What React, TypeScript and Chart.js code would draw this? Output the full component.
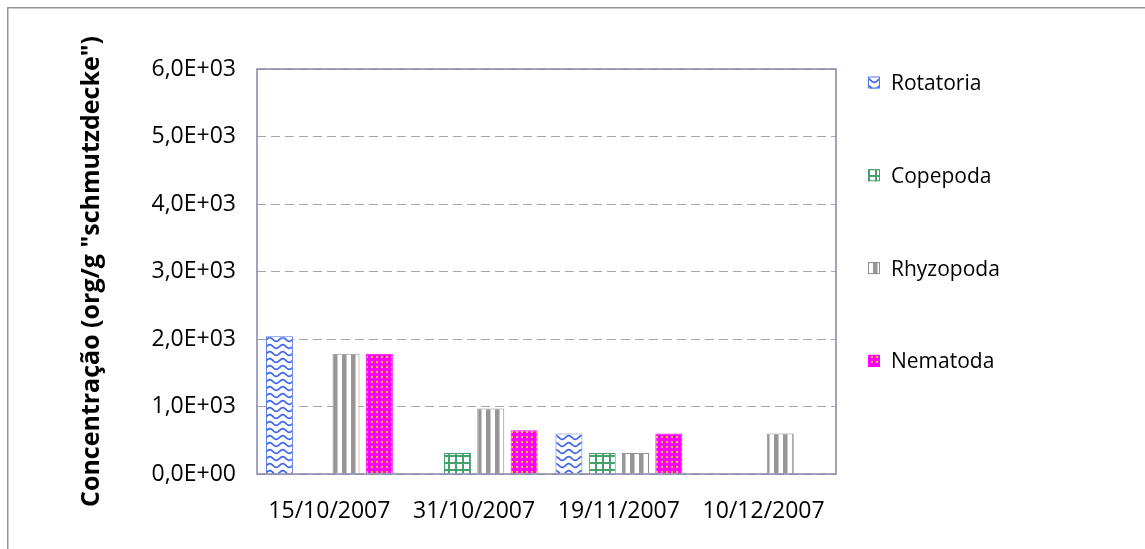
import React, { useEffect, useRef } from "react";
import { Chart, registerables } from "chart.js";

Chart.register(...registerables);

const categories = ["15/10/2007", "31/10/2007", "19/11/2007", "10/12/2007"];
const seriesNames = ["Rotatoria", "Copepoda", "Rhyzopoda", "Nematoda"];
const rotatoria = [2040, null, 600, null];
const copepoda = [null, 310, 310, null];
const rhyzopoda = [1780, 970, 310, 600];
const nematoda = [1780, 650, 600, null];
const yTickLabels = ["0,0E+00", "1,0E+03", "2,0E+03", "3,0E+03", "4,0E+03", "5,0E+03", "6,0E+03"];
const yMax = 6000;
const yStep = 1000;
const yTitle = 'Concentração (org/g "schmutzdecke")';

const FONT = "'Open Sans', 'Noto Sans', sans-serif";

function makePattern(w: number, h: number, draw: (g: CanvasRenderingContext2D, w: number, h: number) => void) {
  const c = document.createElement("canvas");
  c.width = w;
  c.height = h;
  const g = c.getContext("2d") as CanvasRenderingContext2D;
  draw(g, w, h);
  return g.createPattern(c, "repeat") as CanvasPattern;
}

function buildPatterns() {
  const wave = makePattern(13, 7, (g, w, h) => {
    g.fillStyle = "#ffffff";
    g.fillRect(0, 0, w, h);
    g.strokeStyle = "#3f66e8";
    g.lineWidth = 1.7;
    g.beginPath();
    for (let x = -1; x <= w + 1; x += 0.5) {
      const y = 3.5 + 1.8 * Math.sin((2 * Math.PI * x) / w);
      if (x === -1) g.moveTo(x, y);
      else g.lineTo(x, y);
    }
    g.stroke();
  });
  const grid = makePattern(7, 7, (g, w, h) => {
    g.fillStyle = "#ffffff";
    g.fillRect(0, 0, w, h);
    g.fillStyle = "#44a06c";
    g.fillRect(0, 0, 2, h);
    g.fillRect(0, 0, w, 2);
  });
  const stripes = makePattern(9, 4, (g, w, h) => {
    g.fillStyle = "#ffffff";
    g.fillRect(0, 0, w, h);
    g.fillStyle = "#969696";
    g.fillRect(0, 0, 4.5, h);
  });
  const dots = makePattern(5, 5, (g, w, h) => {
    g.fillStyle = "#ff00ff";
    g.fillRect(0, 0, w, h);
    g.fillStyle = "#ffc23a";
    g.fillRect(1, 1, 2, 2);
  });
  return { wave, grid, stripes, dots };
}

const framePlugin = {
  id: "outerFrame",
  beforeDraw(chart: any) {
    const { ctx, width, height } = chart;
    ctx.save();
    ctx.strokeStyle = "#959595";
    ctx.lineWidth = 1.5;
    ctx.beginPath();
    ctx.moveTo(7.75, height);
    ctx.lineTo(7.75, 7.75);
    ctx.lineTo(width, 7.75);
    ctx.stroke();
    ctx.restore();
  },
};

const plotBorderPlugin = {
  id: "plotBorder",
  afterDatasetsDraw(chart: any) {
    const { ctx, chartArea } = chart;
    ctx.save();
    ctx.strokeStyle = "#8585aa";
    ctx.lineWidth = 1.5;
    ctx.strokeRect(chartArea.left, chartArea.top, chartArea.right - chartArea.left, chartArea.bottom - chartArea.top);
    ctx.restore();
  },
};

const sideLegendPlugin = {
  id: "sideLegend",
  afterDraw(chart: any) {
    const { ctx, chartArea } = chart;
    ctx.save();
    ctx.font = `21px ${FONT}`;
    ctx.textBaseline = "alphabetic";
    ctx.textAlign = "left";
    chart.data.datasets.forEach((ds: any, i: number) => {
      const cy = chartArea.top + 13.5 + i * 92.8;
      const bx = chartArea.right + 32;
      ctx.fillStyle = ds.backgroundColor;
      ctx.fillRect(bx, cy - 6, 12, 12);
      ctx.strokeStyle = ds.borderColor;
      ctx.lineWidth = 1;
      ctx.strokeRect(bx + 0.5, cy - 5.5, 11, 11);
      ctx.fillStyle = "#000000";
      ctx.fillText(ds.label, bx + 23, cy + 7.5);
    });
    ctx.restore();
  },
};

export default function App() {
  const canvasRef = useRef<HTMLCanvasElement | null>(null);

  useEffect(() => {
    if (!canvasRef.current) return;
    const p = buildPatterns();
    const fills = [p.wave, p.grid, p.stripes, p.dots];
    const borders = ["#5577ee", "#44a06c", "#8f8f8f", "#ff00ff"];
    const values = [rotatoria, copepoda, rhyzopoda, nematoda];

    Chart.defaults.font.family = FONT;

    const chart = new Chart(canvasRef.current, {
      type: "bar",
      data: {
        labels: categories,
        datasets: seriesNames.map((name, i) => ({
          label: name,
          data: values[i] as any,
          backgroundColor: fills[i] as any,
          borderColor: borders[i],
          borderWidth: 1,
          borderSkipped: "start",
          categoryPercentage: 0.92,
          barPercentage: 0.81,
        })),
      },
      options: {
        animation: false,
        responsive: true,
        maintainAspectRatio: false,
        layout: { padding: { top: 69, right: 309, bottom: 0, left: 0 } },
        plugins: {
          legend: { display: false },
          tooltip: { enabled: false },
        },
        scales: {
          x: {
            grid: { display: false, drawTicks: false },
            border: { display: false },
            ticks: {
              padding: 24,
              color: "#000000",
              font: { size: 23, family: FONT },
              maxRotation: 0,
              autoSkip: false,
            },
            afterFit: (s: any) => {
              s.height = 75;
            },
          },
          y: {
            min: 0,
            max: yMax,
            ticks: {
              stepSize: yStep,
              padding: 21,
              color: "#000000",
              font: { size: 23, family: FONT },
              callback: (v: any) => yTickLabels[Math.round(Number(v) / yStep)],
            },
            grid: { color: "#a6a6a6", lineWidth: 1, drawTicks: false },
            border: { display: false, dash: [9, 5] },
            title: {
              display: true,
              text: yTitle,
              color: "#000000",
              font: { size: 25, weight: "bold", family: FONT },
              padding: { top: 77, bottom: 0 },
            },
            afterFit: (s: any) => {
              s.width = 257;
            },
          },
        },
      },
      plugins: [framePlugin, plotBorderPlugin, sideLegendPlugin],
    } as any);

    return () => chart.destroy();
  }, []);

  return (
    <div style={{ position: "fixed", left: 0, top: 0, width: 1145, height: 549, background: "#ffffff" }}>
      <canvas ref={canvasRef} />
    </div>
  );
}
